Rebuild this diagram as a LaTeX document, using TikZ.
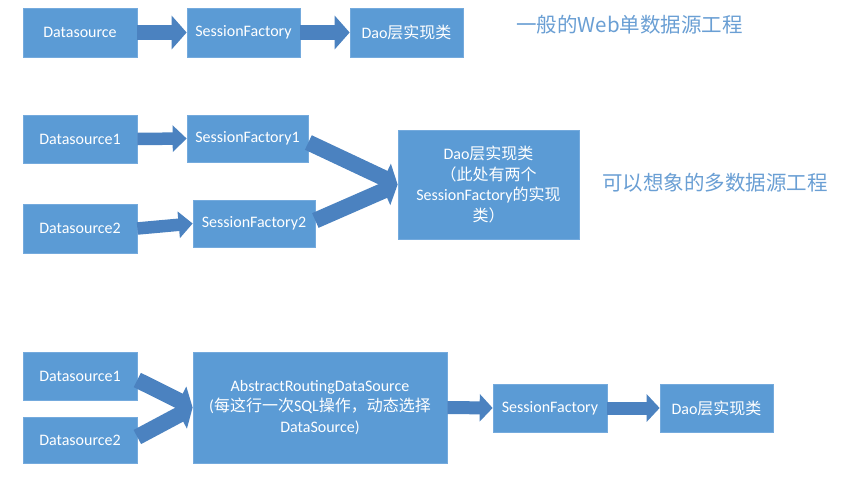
\documentclass[tikz,border=0pt]{standalone}
\usepackage{fontspec}
\setmainfont{Carlito}
\newfontfamily\cjk{Noto Sans CJK SC}
\usetikzlibrary{arrows.meta,shadows}
\definecolor{boxc}{HTML}{5B9BD5}
\definecolor{boxedge}{HTML}{74AADD}
\definecolor{arrowc}{HTML}{4B82C0}
\definecolor{titlec}{HTML}{6A9FD4}
\begin{document}
\begin{tikzpicture}[x=1pt,y=-1pt,
  box/.style={rectangle, fill=boxc, draw=boxedge, line width=0.7pt, text=white,
    inner sep=0pt, align=center, font=\fontsize{16}{20.5}\selectfont,
    drop shadow={shadow xshift=1.2pt, shadow yshift=-1.2pt, opacity=0.18, fill=black!40}},
  arrowA/.style={draw=arrowc, line width=15pt, -{Triangle[length=15pt,width=33pt]}},
  arrowB/.style={draw=arrowc, line width=12.5pt, -{Triangle[length=14pt,width=26pt]}},
  arrowC/.style={draw=arrowc, line width=16pt, -{Triangle[length=15pt,width=31pt]}},
  arrowD/.style={draw=arrowc, line width=13pt, -{Triangle[length=13pt,width=27pt]}},
  title/.style={text=titlec, inner sep=0pt, font=\cjk\fontsize{20.5}{24}\selectfont}]
\useasboundingbox (0,0) rectangle (843,482);
\fill[white] (0,0) rectangle (843,482);

% Row 1
\node[box, minimum width=114pt, minimum height=49pt] (ds) at (80,32.5) {Datasource};
\node[box, minimum width=113pt, minimum height=49pt] (sf) at (243.5,32.5) {SessionFactory};
\node[box, minimum width=113pt, minimum height=49pt] (dao) at (406.5,32.5) {Dao{\cjk 层实现类}};
\node[title] (t1) at (629.5,25) {一般的Web单数据源工程};
\draw[arrowA] (ds.east) -- (sf.west);
\draw[arrowA] (sf.east) -- (dao.west);

% Row 2
\node[box, minimum width=114pt, minimum height=48pt] (dsa) at (80,139) {Datasource1};
\node[box, minimum width=121pt, minimum height=47pt] (sfa) at (247.5,138.5) {SessionFactory1};
\node[box, minimum width=114pt, minimum height=49pt] (dsb) at (80,228.5) {Datasource2};
\node[box, minimum width=122pt, minimum height=47pt] (sfb) at (254,223.5) {SessionFactory2};
\node[box, minimum width=181pt, minimum height=109pt] (daob) at (488.5,184.5)
  {Dao{\cjk 层实现类}\\{\cjk （此处有两个}\\SessionFactory{\cjk 的实现}\\{\cjk 类）}};
\node[title] (t2) at (715,183) {可以想象的多数据源工程};
\draw[arrowB] (dsa.east) -- (sfa.west);
\draw[arrowB] (dsb.east) -- (sfb.west);
\draw[arrowC] ([yshift=-4pt]sfa.east) -- (daob.west);
\draw[arrowC] ([yshift=3pt]sfb.east) -- (daob.west);

% Row 3
\node[box, minimum width=114pt, minimum height=48pt] (dsc) at (80,376) {Datasource1};
\node[box, minimum width=114pt, minimum height=46pt] (dsd) at (80,440) {Datasource2};
\node[box, minimum width=254pt, minimum height=111pt] (ards) at (320,407.5)
  {AbstractRoutingDataSource\\({\cjk 每这行一次}SQL{\cjk 操作，动态选择}\\DataSource)};
\node[box, minimum width=114pt, minimum height=48pt] (sfc) at (550,408) {SessionFactory};
\node[box, minimum width=113pt, minimum height=48pt] (daoc) at (716.5,408) {Dao{\cjk 层实现类}};
\draw[arrowC] ([yshift=-4pt]dsc.east) -- (ards.west);
\draw[arrowC] ([yshift=3pt]dsd.east) -- (ards.west);
\draw[arrowD] (ards.east) -- (sfc.west);
\draw[arrowD] (sfc.east) -- (daoc.west);
\end{tikzpicture}
\end{document}
